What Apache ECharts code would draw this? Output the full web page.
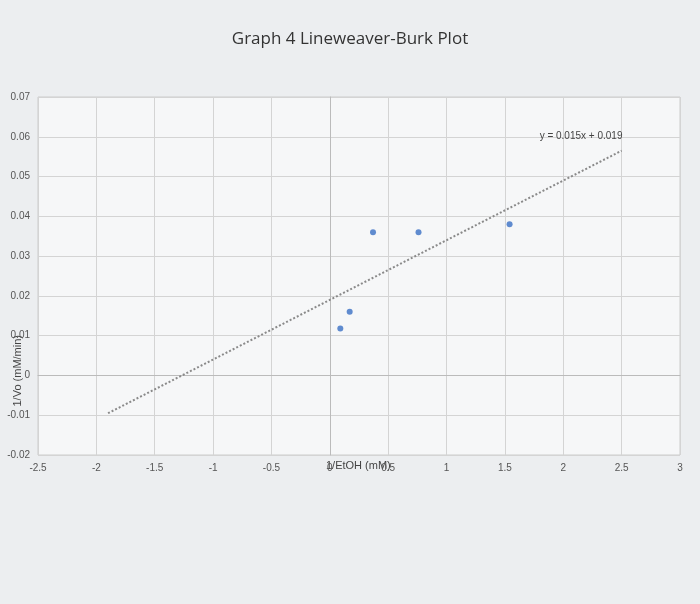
<!DOCTYPE html>
<html><head><meta charset="utf-8">
<script src="https://cdn.jsdelivr.net/npm/echarts@6/dist/echarts.min.js"></script>
<style>html,body{margin:0;background:#eceef0}#c{width:700px;height:604px}</style>
</head><body><div id="c"></div>
<script>
const xValues = [0.09, 0.17, 0.37, 0.76, 1.54];
const yValues = [0.0118, 0.016, 0.036, 0.036, 0.038];
const slope = 0.015, intercept = 0.019;
const trendX = [-1.9, 2.5];
const trendLabel = 'y = 0.015x + 0.019';

const pts = xValues.map((x, i) => [x, yValues[i]]);
const trend = trendX.map(x => [x, slope * x + intercept]);
const chart = echarts.init(document.getElementById('c'));
chart.setOption({
  backgroundColor: '#eceef0',
  title: { text: 'Graph 4 Lineweaver-Burk Plot', left: 'center', top: 26,
    textStyle: { fontFamily: 'Open Sans', fontWeight: 'normal', fontSize: 17, color: '#333' } },
  grid: { left: 38, right: 20, top: 97, bottom: 149, containLabel: false, outerBoundsMode: 'none',
    show: true, backgroundColor: '#f6f7f8', borderColor: '#ccc' },
  xAxis: { type: 'value', min: -2.5, max: 3, interval: 0.5,
    axisLine: { onZero: true, lineStyle: { color: '#bbb' } }, axisTick: { show: false },
    axisLabel: { color: '#555', fontSize: 10 },
    splitLine: { lineStyle: { color: '#d4d4d4' } } },
  yAxis: { type: 'value', min: -0.02, max: 0.07, interval: 0.01,
    axisLine: { onZero: true, lineStyle: { color: '#bbb' } }, axisTick: { show: false },
    axisLabel: { color: '#555', fontSize: 10 },
    splitLine: { lineStyle: { color: '#d4d4d4' } } },
  graphic: [
    { type: 'text', left: 326, top: 460, style: { text: '1/EtOH (mM)', fill: '#444', font: '11px sans-serif' } },
    { type: 'text', left: 12, top: 335, rotation: Math.PI / 2, style: { text: '1/Vo (mM/min)', fill: '#444', font: '11px sans-serif' } }
  ],
  series: [
    { type: 'scatter', data: pts, symbolSize: 6, itemStyle: { color: '#3a6fc4' } },
    { type: 'line', data: trend, symbol: 'none', lineStyle: { type: 'dotted', width: 2, color: '#8a8a8a' },
      endLabel: { show: true, formatter: trendLabel, offset: [-90, -14], fontSize: 10, color: '#444' } }
  ]
});
</script></body></html>
